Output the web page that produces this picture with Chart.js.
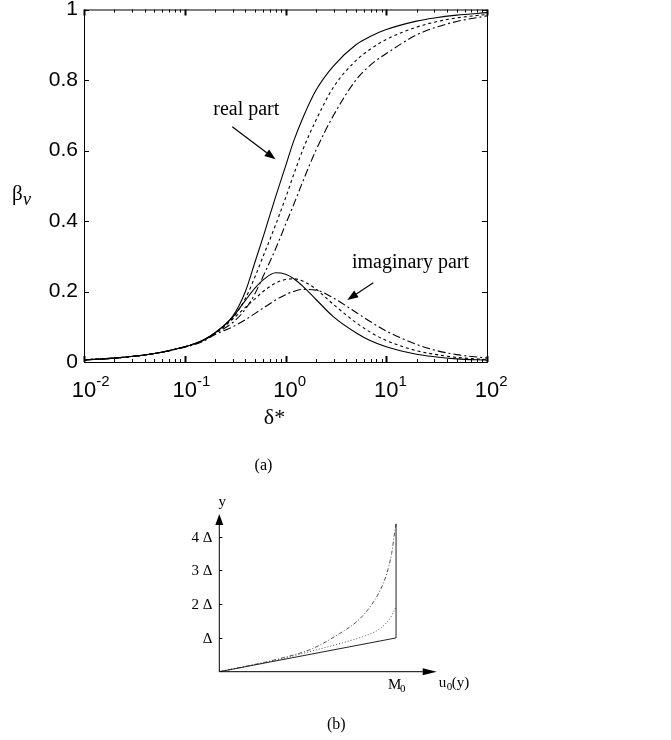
<!DOCTYPE html>
<html>
<head>
<meta charset="utf-8">
<script src="https://cdn.jsdelivr.net/npm/chart.js@4.4.0/dist/chart.umd.min.js"></script>
<style>
  html, body { margin: 0; padding: 0; background: #fff; }
  body { width: 671px; height: 740px; position: relative; overflow: hidden; }
  #wrapA { position: absolute; left: 0; top: -10px; width: 671px; height: 490px; }
  #wrapB { position: absolute; left: 0; top: 480px; width: 671px; height: 260px; }
</style>
</head>
<body>
<div id="wrapA"><canvas id="chartA"></canvas></div>
<div id="wrapB"><canvas id="chartB"></canvas></div>
<script>
// ---- (a) beta_nu against delta* ----
var delta = [0.01, 0.02, 0.05, 0.1, 0.15, 0.2, 0.3, 0.4, 0.5, 0.6, 0.8, 1, 1.2, 1.5, 2, 3, 5, 7, 10, 20, 30, 50, 100];

var realSolid   = [0.006, 0.011, 0.024, 0.043, 0.061, 0.083, 0.13, 0.2, 0.285, 0.355, 0.47, 0.555, 0.625, 0.695, 0.77, 0.84, 0.9, 0.924, 0.943, 0.967, 0.976, 0.984, 0.991];
var realDot     = [0.006, 0.011, 0.024, 0.043, 0.061, 0.082, 0.125, 0.18, 0.243, 0.3, 0.39, 0.465, 0.53, 0.605, 0.685, 0.78, 0.855, 0.888, 0.915, 0.95, 0.964, 0.976, 0.986];
var realDashDot = [0.006, 0.011, 0.024, 0.043, 0.06, 0.081, 0.112, 0.15, 0.195, 0.243, 0.322, 0.39, 0.445, 0.515, 0.6, 0.7, 0.8, 0.843, 0.875, 0.928, 0.948, 0.966, 0.982];
var imagSolid   = [0.006, 0.011, 0.024, 0.043, 0.061, 0.083, 0.128, 0.175, 0.21, 0.233, 0.253, 0.249, 0.237, 0.214, 0.178, 0.128, 0.083, 0.06, 0.043, 0.022, 0.015, 0.009, 0.005];
var imagDot     = [0.006, 0.011, 0.024, 0.043, 0.06, 0.081, 0.122, 0.155, 0.18, 0.2, 0.224, 0.234, 0.236, 0.229, 0.207, 0.163, 0.112, 0.084, 0.061, 0.032, 0.022, 0.013, 0.007];
var imagDashDot = [0.006, 0.011, 0.024, 0.042, 0.058, 0.078, 0.1, 0.12, 0.138, 0.153, 0.176, 0.191, 0.2, 0.206, 0.204, 0.181, 0.141, 0.114, 0.088, 0.05, 0.034, 0.021, 0.011];

var xPowers = [-2, -1, 0, 1, 2];
var yTicks = [0, 0.2, 0.4, 0.6, 0.8, 1];

// ---- (b) velocity profiles ----
var uSolid = [0, 1, 1];
var ySolid = [0, 1, 4.38];
var uDot = [0, 0.17, 0.343, 0.53, 0.72, 0.834, 0.91, 0.966, 1];
var yDot = [0, 0.18, 0.37, 0.62, 0.89, 1.08, 1.28, 1.58, 1.92];
var uDashDot = [0, 0.17, 0.343, 0.53, 0.68, 0.777, 0.853, 0.91, 0.947, 0.975, 0.994, 1];
var yDashDot = [0, 0.18, 0.39, 0.69, 1.13, 1.48, 1.92, 2.41, 2.9, 3.5, 4.19, 4.38];
var bTicks = [1, 2, 3, 4];
var bTickLabels = ['Δ', '2 Δ', '3 Δ', '4 Δ'];

var SANS = '"Liberation Sans", Arial, Helvetica, sans-serif';
var SERIF = '"Liberation Serif", "Times New Roman", serif';

function makeSet(xv, yv, dash, color, width, smooth) {
    return {
        data: xv.map(function(x, i) { return {x: x, y: yv[i]}; }),
        borderColor: color,
        borderWidth: width,
        borderDash: dash,
        pointRadius: 0,
        fill: false,
        tension: 0,
        cubicInterpolationMode: smooth ? 'monotone' : 'default'
    };
}

function arrow(ctx, x1, y1, x2, y2, len, half) {
    var ang = Math.atan2(y2 - y1, x2 - x1);
    var bx = x2 - len * Math.cos(ang), by = y2 - len * Math.sin(ang);
    ctx.beginPath();
    ctx.moveTo(x1, y1);
    ctx.lineTo(bx, by);
    ctx.stroke();
    ctx.beginPath();
    ctx.moveTo(x2, y2);
    ctx.lineTo(bx + half * Math.sin(ang), by - half * Math.cos(ang));
    ctx.lineTo(bx - half * Math.sin(ang), by + half * Math.cos(ang));
    ctx.closePath();
    ctx.fill();
}

function seg(ctx, x1, y1, x2, y2) {
    ctx.beginPath();
    ctx.moveTo(x1, y1);
    ctx.lineTo(x2, y2);
    ctx.stroke();
}

// box, inward ticks, log labels and notes for (a)
var frameA = {
    id: 'frameA',
    afterDraw: function(chart) {
        var ctx = chart.ctx, a = chart.chartArea;
        var xs = chart.scales.x, ys = chart.scales.y;
        ctx.save();
        ctx.strokeStyle = '#000';
        ctx.fillStyle = '#000';
        ctx.lineWidth = 1;
        ctx.strokeRect(a.left + 0.5, a.top + 0.5, a.right - a.left, a.bottom - a.top);

        xPowers.forEach(function(p) {
            for (var m = 1; m < 10; m++) {
                var v = m * Math.pow(10, p);
                if (v > xs.max * 1.0001) break;
                var px = Math.round(xs.getPixelForValue(v)) + 0.5;
                var len = m === 1 ? 6 : 3;
                ctx.lineWidth = m === 1 ? 2 : 1;
                seg(ctx, px, a.bottom, px, a.bottom - len);
                seg(ctx, px, a.top, px, a.top + len);
            }
        });
        ctx.lineWidth = 1;
        yTicks.forEach(function(t) {
            var py = Math.round(ys.getPixelForValue(t)) + 0.5;
            seg(ctx, a.left, py, a.left + 5, py);
            seg(ctx, a.right, py, a.right - 5, py);
        });

        // 10^n labels
        xPowers.forEach(function(p) {
            var px = xs.getPixelForValue(Math.pow(10, p));
            ctx.font = '22px ' + SANS;
            ctx.textAlign = 'center';
            ctx.textBaseline = 'alphabetic';
            ctx.fillText('10', px, a.bottom + 35);
            var w = ctx.measureText('10').width;
            ctx.font = '15px ' + SANS;
            ctx.textAlign = 'left';
            ctx.fillText(String(p), px + w / 2, a.bottom + 24);
        });

        // axis titles
        ctx.textAlign = 'left';
        ctx.font = '21px ' + SERIF;
        ctx.fillText('β', 12, a.top + 190);
        ctx.font = 'italic 18px ' + SERIF;
        ctx.fillText('ν', 23, a.top + 195);
        ctx.textAlign = 'center';
        ctx.font = '22px ' + SERIF;
        ctx.fillText('δ*', (a.left + a.right) / 2 - 11, a.bottom + 62);
        ctx.font = '16px ' + SERIF;
        ctx.fillText('(a)', (a.left + a.right) / 2 - 22, a.bottom + 108);

        // notes and arrows
        ctx.font = '20px ' + SERIF;
        ctx.fillText('real part', xs.getPixelForValue(0.408), ys.getPixelForValue(0.7));
        ctx.fillText('imaginary part', xs.getPixelForValue(17.4), ys.getPixelForValue(0.267));
        ctx.lineWidth = 1.2;
        arrow(ctx, xs.getPixelForValue(0.296), ys.getPixelForValue(0.6675),
                   xs.getPixelForValue(0.796), ys.getPixelForValue(0.575), 11, 4);
        arrow(ctx, xs.getPixelForValue(7.43), ys.getPixelForValue(0.225),
                   xs.getPixelForValue(4.1), ys.getPixelForValue(0.176), 11, 4);
        ctx.restore();
    }
};

new Chart(document.getElementById('chartA'), {
    type: 'line',
    data: {
        datasets: [
            makeSet(delta, realSolid, [], '#000', 1.1, true),
            makeSet(delta, realDot, [3, 3], '#000', 1.1, true),
            makeSet(delta, realDashDot, [8, 3, 2, 3], '#000', 1.1, true),
            makeSet(delta, imagSolid, [], '#000', 1.1, true),
            makeSet(delta, imagDot, [3, 3], '#000', 1.1, true),
            makeSet(delta, imagDashDot, [8, 3, 2, 3], '#000', 1.1, true)
        ]
    },
    options: {
        responsive: true,
        maintainAspectRatio: false,
        animation: false,
        layout: { padding: { left: 0, right: 184, top: 19.5, bottom: 0 } },
        plugins: { legend: { display: false }, tooltip: { enabled: false } },
        scales: {
            x: {
                type: 'logarithmic', min: 0.01, max: 100,
                ticks: { display: false },
                grid: { display: false, drawTicks: false },
                border: { display: false },
                afterFit: function(s) { s.height = 118; }
            },
            y: {
                min: 0, max: 1,
                ticks: {
                    stepSize: 0.2, color: '#000', padding: 6,
                    font: { family: SANS, size: 21 },
                    callback: function(v) { return String(+v.toFixed(1)); }
                },
                grid: { display: false, drawTicks: false },
                border: { display: false },
                afterFit: function(s) { s.width = 84; }
            }
        }
    },
    plugins: [frameA]
});

// axes with arrow heads and labels for (b)
var frameB = {
    id: 'frameB',
    afterDraw: function(chart) {
        var ctx = chart.ctx, a = chart.chartArea;
        var xs = chart.scales.x, ys = chart.scales.y;
        var ox = xs.getPixelForValue(0), oy = ys.getPixelForValue(0);
        ctx.save();
        ctx.strokeStyle = '#000';
        ctx.fillStyle = '#000';
        ctx.lineWidth = 1;
        arrow(ctx, ox, oy, ox, a.top, 11, 4);
        arrow(ctx, ox, oy, a.right, oy, 14, 3.5);

        ctx.font = '15px ' + SERIF;
        ctx.textAlign = 'right';
        ctx.textBaseline = 'middle';
        bTicks.forEach(function(t, i) {
            var py = Math.round(ys.getPixelForValue(t)) + 0.5;
            seg(ctx, ox, py, ox + 3, py);
            ctx.fillText(bTickLabels[i], ox - 7, py + 1);
        });

        ctx.textBaseline = 'alphabetic';
        ctx.textAlign = 'center';
        ctx.fillText('y', ox + 3, a.top - 8);

        var mx = xs.getPixelForValue(1);
        ctx.textAlign = 'left';
        ctx.fillText('M', mx - 8, oy + 17);
        ctx.font = '11px ' + SERIF;
        ctx.fillText('0', mx + 4, oy + 20);
        ctx.font = '15px ' + SERIF;
        ctx.fillText('u', a.right + 2, oy + 15);
        ctx.font = '11px ' + SERIF;
        ctx.fillText('0', a.right + 10, oy + 18);
        ctx.font = '15px ' + SERIF;
        ctx.fillText('(y)', a.right + 15, oy + 15);

        ctx.textAlign = 'center';
        ctx.font = '16px ' + SERIF;
        ctx.fillText('(b)', ox + 117, oy + 57);
        ctx.restore();
    }
};

new Chart(document.getElementById('chartB'), {
    type: 'line',
    data: {
        datasets: [
            makeSet(uSolid, ySolid, [], '#222', 1, false),
            makeSet(uDot, yDot, [1, 2], '#555', 1, true),
            makeSet(uDashDot, yDashDot, [4, 2, 1, 2], '#555', 1, true)
        ]
    },
    options: {
        responsive: true,
        maintainAspectRatio: false,
        animation: false,
        layout: { padding: { left: 0, right: 234.3, top: 34, bottom: 0 } },
        plugins: { legend: { display: false }, tooltip: { enabled: false } },
        scales: {
            x: {
                type: 'linear', min: 0, max: 1.23,
                ticks: { display: false },
                grid: { display: false, drawTicks: false },
                border: { display: false },
                afterFit: function(s) { s.height = 68.3; }
            },
            y: {
                min: 0, max: 4.67,
                ticks: { display: false },
                grid: { display: false, drawTicks: false },
                border: { display: false },
                afterFit: function(s) { s.width = 219.3; }
            }
        }
    },
    plugins: [frameB]
});
</script>
</body>
</html>
